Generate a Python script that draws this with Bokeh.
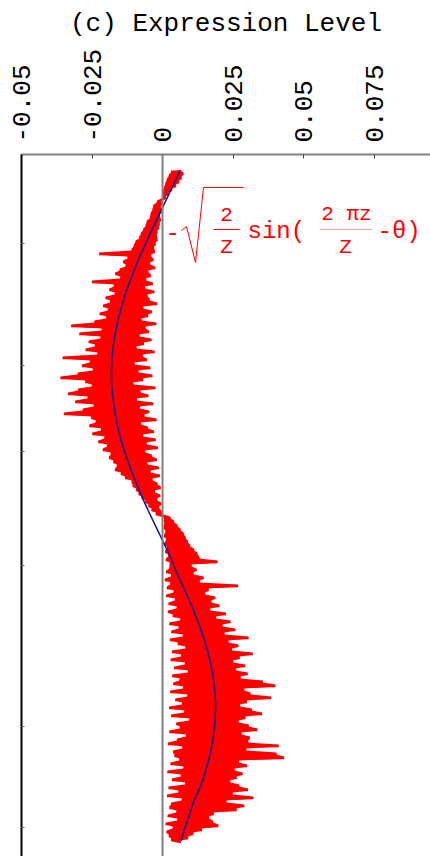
import numpy as np
from bokeh.plotting import figure
from bokeh.models import Range1d, FixedTicker, Span
from bokeh.embed import file_html
from bokeh.resources import INLINE
from bokeh.core.properties import value

title_text = "(c) Expression Level"
x_ticks = [-0.05, -0.025, 0, 0.025, 0.05, 0.075]
x_tick_labels = ["-0.05", "-0.025", "0", "0.025", "0.05", "0.075"]
gene_ticks = [73, 195, 281, 395, 556, 657]
red_step = 2
fit_step = 10

# observed expression level (x 1e-3), ordered by gene rank
expression_e3 = [
    6.5, 3.0, 7.4, 2.2, 6.8, 1.5, 5.9, 1.0, 4.8, 0.5,
    3.4, 0.2, 2.2, 0.1, 1.2, -0.4, -2.0, -0.2, -3.2, -0.6,
    -3.6, -0.4, -4.2, -0.9, -4.5, -0.6, -5.6, -1.0, -6.0, -1.2,
    -6.9, -1.8, -7.7, -2.0, -8.3, -1.8, -9.6, -2.4, -10.2, -3.0,
    -11.0, -2.7, -22.5, -4.0, -12.4, -3.2, -14.0, -4.4, -13.1,
    -2.6, -15.2, -5.0, -16.8, -4.1, -15.0, -5.8, -25.0, -3.4, -17.3,
    -6.2, -18.9, -2.9, -17.0, -5.3, -20.2, -4.5, -18.6, -1.9, -21.1,
    -6.8, -19.4, -3.7, -22.3, -5.1, -20.0, -7.4, -24.2, -2.2, -32.4,
    -6.0, -21.6, -4.8, -29.5, -8.1, -22.0, -3.9, -26.2, -6.6,
    -24.0, -9.2, -27.3, -2.8, -23.1, -7.0, -35.4, -5.5, -25.8, -9.9,
    -28.6, -4.3, -24.7, -8.5, -30.1, -3.6, -36.2, -6.9, -27.4, -10.3,
    -25.1, -2.5, -29.9, -7.8, -33.5, -5.0, -26.6, -9.1, -31.0, -3.3,
    -24.4, -8.0, -28.3, -4.7, -35.0, -6.4, -25.3, -2.1, -23.7, -7.6,
    -26.0, -5.2, -21.8, -3.0, -24.9, -6.9, -20.6, -2.4, -22.8, -5.6,
    -19.7, -1.6, -21.2, -6.1, -18.4, -3.8, -19.0, -2.0, -17.5, -5.3,
    -16.2, -1.3, -16.9, -4.2, -14.8, -0.9, -13.3, -3.5, -11.0, -1.8,
    -10.6, -0.6, -9.4, -2.7, -8.5, -0.8, -7.4, -1.9, -6.1, -0.4,
    -5.0, -1.2, -3.9, -0.3, -2.4, 0.3, 2.8, 0.5, 4.1, 0.6,
    5.3, 0.4, 6.4, 1.0, 7.5, 0.5, 8.2, 1.2, 9.0, 0.7,
    9.8, 1.5, 11.2, 0.9, 12.4, 2.0, 13.1, 1.1, 19.5, 2.5,
    10.3, 2.4, 12.1, 1.2, 11.0, 3.0, 14.6, 0.8, 13.2, 2.7,
    26.8, 1.5, 16.4, 3.9, 15.1, 1.3, 18.7, 4.4, 17.3, 2.1,
    20.2, 5.0, 16.9, 1.9, 22.5, 3.6, 19.0, 6.3, 24.1, 2.4,
    21.3, 5.7, 25.8, 3.1, 22.0, 7.2, 30.5, 2.6, 23.4, 5.4,
    26.9, 8.1, 24.6, 3.3, 32.0, 6.6, 27.4, 2.9, 25.0, 7.9,
    29.3, 4.1, 26.1, 9.0, 30.2, 3.4, 27.7, 6.0, 35.6, 3.8,
    40.0, 7.3, 29.0, 2.7, 31.2, 8.8, 38.5, 4.5, 30.0, 6.9,
    27.5, 2.3, 31.7, 7.7, 35.3, 3.0, 29.4, 9.5, 27.0, 4.8,
    30.6, 6.1, 33.6, 2.4, 28.0, 8.3, 31.0, 5.1, 30.4, 1.9,
    41.2, 7.0, 29.7, 3.7, 40.4, 4.2, 43.1, 5.9, 27.1, 2.8,
    30.0, 7.4, 25.6, 1.7, 28.4, 6.5, 26.3, 3.3, 24.0, 8.0,
    27.2, 2.1, 30.3, 5.6, 24.9, 1.6, 32.2, 6.8, 22.7, 3.0,
    29.0, 2.4, 26.3, 4.9, 18.2, 1.8, 16.5, 5.2,
    17.9, 1.1, 19.8, 3.6, 14.0, 1.4, 10.9, 2.2, 9.1, 3.0, 6.5,
]

# fitted curve  -sqrt(2/Z) sin(2 pi z / Z - theta)  (x 1e-3)
fit_e3 = [
    6.2, 4.6, 2.9, 1.2, -0.5, -2.2, -3.9, -5.5, -7.1, -8.7,
    -10.1, -11.5, -12.8, -13.9, -14.9, -15.8, -16.6, -17.2, -17.7, -18.0,
    -18.1, -18.1, -17.9, -17.5, -17.0, -16.4, -15.6, -14.7, -13.6, -12.4,
    -11.1, -9.7, -8.2, -6.7, -5.1, -3.4, -1.7, 0.0, 1.7, 3.3,
    4.7, 6.3, 7.9, 9.5, 11.0, 12.4, 13.7, 14.9, 15.9, 16.8,
    17.5, 18.1, 18.5, 18.8, 18.8, 18.6, 18.3, 17.8, 17.1, 16.3,
    15.3, 14.2, 12.8, 11.2, 10.0, 8.8, 7.6, 6.6,
]

expression = np.array(expression_e3) * 1e-3
gene_rank = np.arange(len(expression)) * red_step
fit = np.array(fit_e3) * 1e-3
fit_rank = np.arange(len(fit)) * fit_step

# envelope of each consecutive pair of genes (fills the dense trace)
nxt = np.append(expression[1:], expression[-1])
pair_lo = np.minimum(expression, nxt)
pair_hi = np.maximum(expression, nxt)

X0, X1 = -0.05, 0.095
p = figure(width=430, height=856,
           x_range=Range1d(X0, X1), y_range=Range1d(686, -16),
           x_axis_location="above",
           output_backend="svg", toolbar_location=None,
           min_border_left=21, min_border_right=0,
           min_border_top=154, min_border_bottom=0)
p.outline_line_color = None
p.xgrid.visible = False
p.ygrid.visible = False
p.background_fill_color = "white"
p.border_fill_color = "white"

xa = p.xaxis[0]
xa.ticker = FixedTicker(ticks=x_ticks)
xa.major_label_overrides = {t: l for t, l in zip(x_ticks, x_tick_labels)}
xa.major_label_orientation = "vertical"
xa.major_label_text_font = "Liberation Mono"
xa.major_label_text_font_size = "26px"
xa.major_label_text_color = "black"
xa.major_label_standoff = 12
xa.major_tick_in = 4
xa.major_tick_out = 0
xa.major_tick_line_color = "#444444"
xa.minor_tick_line_color = None
xa.axis_line_color = "#808080"
xa.axis_line_width = 2
xa.axis_label = title_text
xa.axis_label_text_font = "Liberation Mono"
xa.axis_label_text_font_size = "26px"
xa.axis_label_text_font_style = "normal"
xa.axis_label_text_color = "black"
xa.axis_label_standoff = 7

ya = p.yaxis[0]
ya.ticker = FixedTicker(ticks=gene_ticks)
ya.major_label_text_font_size = "1px"
ya.major_label_text_color = None
ya.major_label_standoff = 0
ya.major_tick_in = 3
ya.major_tick_out = 0
ya.major_tick_line_color = "#666666"
ya.minor_tick_line_color = None
ya.axis_line_color = "black"
ya.axis_line_width = 2

p.add_layout(Span(location=0, dimension="height", line_color="#808080", line_width=2))

p.harea(x1=pair_lo, x2=pair_hi, y=gene_rank, fill_color="#ff0000", fill_alpha=1.0)
p.line(expression, gene_rank, line_color="#ff0000", line_width=1.3)
p.line(fit, fit_rank, line_color="#16168a", line_width=1.6)

# formula annotation, positioned in pixel terms
def px_x(px):
    return X0 + (px - 21) * (X1 - X0) / 409.0

def px_y(py):
    return py - 170

font = value("Liberation Mono")
p.text(x=[px_x(165), px_x(247), px_x(377)], y=[px_y(231)] * 3,
       text=["-", "sin(", "-θ)"], text_font=font, text_font_size=value("24px"),
       text_color="#ff0000", text_align="left", text_baseline="middle")
p.text(x=[px_x(226), px_x(226), px_x(346), px_x(345)],
       y=[px_y(214), px_y(247), px_y(214), px_y(247)],
       text=["2", "Z", "2 πz", "Z"], text_font=font, text_font_size=value("21px"),
       text_color="#ff0000", text_align="center", text_baseline="middle")
p.line([px_x(v) for v in (181, 186, 195, 203, 243)],
       [px_y(v) for v in (230, 226, 262, 187, 187)],
       line_color="#ff0000", line_width=1)
p.line([px_x(213), px_x(239)], [px_y(229), px_y(229)], line_color="#ff0000", line_width=1)
p.line([px_x(320), px_x(372)], [px_y(229), px_y(229)], line_color="#ff5050",
       line_width=1, line_dash="1 1")

open("out.html", "w").write(file_html(p, INLINE))
